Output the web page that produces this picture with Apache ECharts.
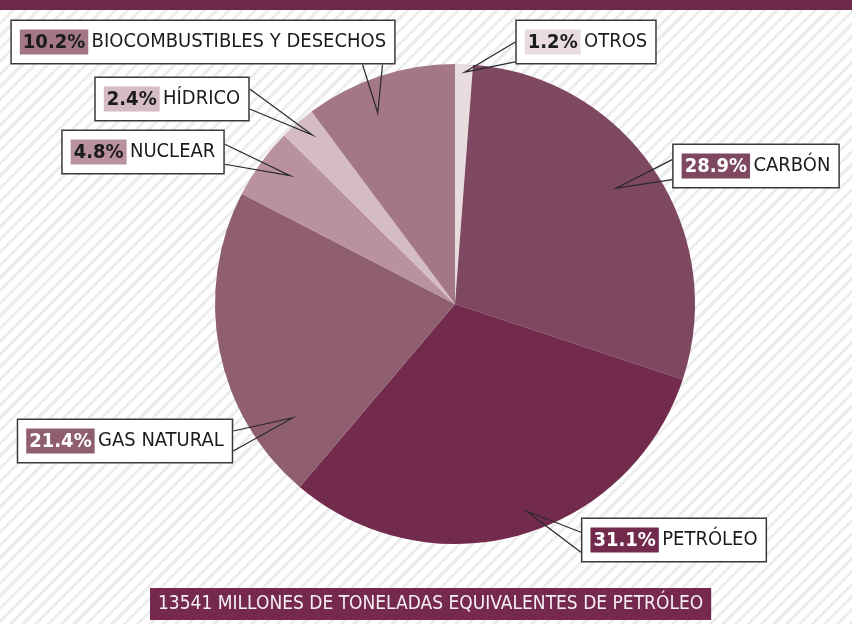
<!DOCTYPE html>
<html>
<head>
<meta charset="utf-8">
<script src="https://cdn.jsdelivr.net/npm/echarts@6/dist/echarts.min.js"></script>
<style>
  html, body { margin: 0; padding: 0; }
  body {
    width: 852px; height: 624px; overflow: hidden;
    background: repeating-linear-gradient(135deg, #ffffff 0 6px, #ededed 6px 9px);
  }
  #chart { width: 852px; height: 624px; }
</style>
</head>
<body>
<div id="chart"></div>
<script>
// energy sources, clockwise from the top
const sources = ['OTROS', 'CARBÓN', 'PETRÓLEO', 'GAS NATURAL', 'NUCLEAR', 'HÍDRICO', 'BIOCOMBUSTIBLES Y DESECHOS'];
const shares = [1.2, 28.9, 31.1, 21.4, 4.8, 2.4, 10.2];
const totalText = '13541 MILLONES DE TONELADAS EQUIVALENTES DE PETRÓLEO';

const sliceColors = ['#e9dcde', '#7e4861', '#722b4d', '#8f5f70', '#b9929d', '#d5bcc2', '#a37884'];
const pctTextColors = ['#1b1b1b', '#ffffff', '#ffffff', '#ffffff', '#1b1b1b', '#1b1b1b', '#1b1b1b'];

const FONT = "'Liberation Sans Narrow', 'DejaVu Sans Condensed', 'Arial Narrow', sans-serif";
const CENTER = [455, 304];
const RADIUS = 240;
const START = 90;

// callout boxes: center, side the tail leaves from, where along it,
// and where the tail tip lands inside the slice (fraction of the slice's sweep, distance from center)
const boxLayout = {
  'OTROS': { x: 586, y: 42, side: 'left', at: 0.72, tipAt: 0.55, tipR: 232 },
  'CARBÓN': { x: 756, y: 166, side: 'left', at: 0.58, tipAt: 0.48, tipR: 198 },
  'PETRÓLEO': { x: 674, y: 540, side: 'left', at: 0.55, tipAt: 0.47, tipR: 219 },
  'GAS NATURAL': { x: 125, y: 441, side: 'right', at: 0.5, tipAt: 0.19, tipR: 198 },
  'NUCLEAR': { x: 143, y: 152, side: 'right', at: 0.55, tipAt: 0.61, tipR: 209 },
  'HÍDRICO': { x: 172, y: 99, side: 'right', at: 0.5, tipAt: 0.6, tipR: 221 },
  'BIOCOMBUSTIBLES Y DESECHOS': { x: 203, y: 42, side: 'bottom', at: 0.94, tipAt: 0.4, tipR: 206 },
};

const total = shares.reduce((a, b) => a + b, 0);

function tipPoint(i, b) {
  let before = 0;
  for (let k = 0; k < i; k++) before += shares[k];
  const frac = (before + shares[i] * b.tipAt) / total;
  const ang = (START - frac * 360) * Math.PI / 180;
  return [CENTER[0] + b.tipR * Math.cos(ang), CENTER[1] - b.tipR * Math.sin(ang)];
}

const pieData = sources.map((name, i) => ({
  name: name,
  value: shares[i],
  itemStyle: { color: sliceColors[i] },
}));

const calloutData = sources.map((name, i) => ({
  name: name,
  value: shares[i],
  label: {
    rich: {
      p: {
        fontFamily: FONT, fontSize: 20, fontWeight: 'bold', lineHeight: 24,
        color: pctTextColors[i], backgroundColor: sliceColors[i], padding: [3, 3, 2, 3],
      },
      n: { fontFamily: FONT, fontSize: 20, lineHeight: 24, color: '#1b1b1b' },
    },
  },
}));

const chart = echarts.init(document.getElementById('chart'));
chart.setOption({
  backgroundColor: 'transparent',
  animation: false,
  title: {
    text: totalText,
    left: 150,
    top: 588,
    padding: [4, 8, 4, 8],
    backgroundColor: '#76294e',
    textStyle: { fontFamily: FONT, fontSize: 19, fontWeight: 'normal', color: '#f6eef2', lineHeight: 24 },
  },
  graphic: [
    { type: 'rect', left: 0, top: 0, shape: { width: 852, height: 10 }, style: { fill: '#6d2949' } },
  ],
  series: [
    {
      type: 'pie',
      center: CENTER,
      radius: RADIUS,
      startAngle: START,
      clockwise: true,
      silent: true,
      label: { show: false },
      labelLine: { show: false },
      data: pieData,
    },
    {
      // transparent twin drawn on top, carrying the callouts
      type: 'pie',
      z: 5,
      center: CENTER,
      radius: RADIUS,
      startAngle: START,
      clockwise: true,
      silent: true,
      avoidLabelOverlap: false,
      itemStyle: { color: 'rgba(0,0,0,0)' },
      label: {
        show: true,
        position: 'outside',
        formatter: (p) => '{p|' + p.value.toFixed(1) + '%} {n|' + p.name + '}',
        backgroundColor: '#ffffff',
        borderColor: '#3a3a3a',
        borderWidth: 1.5,
        padding: [9, 8, 9, 8],
      },
      labelLine: { show: true, length: 10, length2: 10, lineStyle: { color: '#2a2a2a', width: 1.2 } },
      labelLayout: (params) => {
        const i = params.dataIndex;
        const b = boxLayout[sources[i]];
        const w = params.labelRect.width, h = params.labelRect.height;
        const tip = tipPoint(i, b);
        const half = 10;
        let p1, p2;
        if (b.side === 'left' || b.side === 'right') {
          const ex = b.side === 'left' ? b.x - w / 2 : b.x + w / 2;
          const ey = b.y - h / 2 + h * b.at;
          p1 = [ex, ey - half];
          p2 = [ex, ey + half];
        } else {
          const ey = b.side === 'top' ? b.y - h / 2 : b.y + h / 2;
          const ex = b.x - w / 2 + w * b.at;
          p1 = [ex - half, ey];
          p2 = [ex + half, ey];
        }
        return {
          x: b.x,
          y: b.y,
          align: 'center',
          verticalAlign: 'middle',
          labelLinePoints: [p1, tip, p2],
        };
      },
      data: calloutData,
    },
  ],
});
</script>
</body>
</html>
